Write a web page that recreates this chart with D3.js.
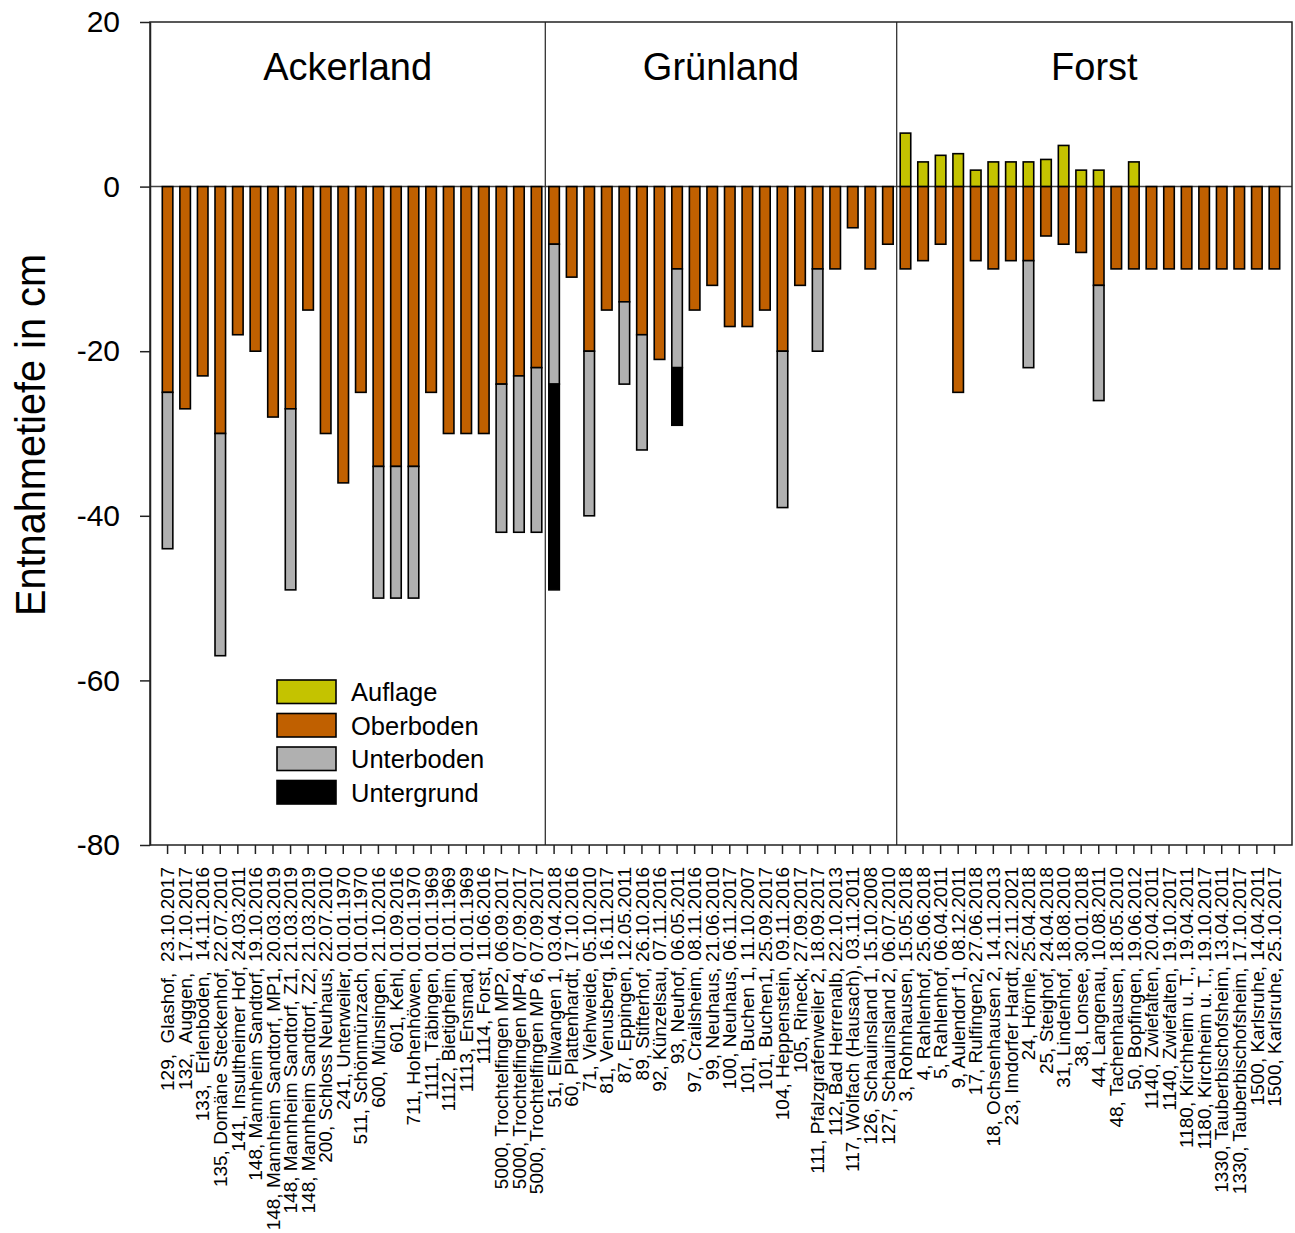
<!DOCTYPE html>
<html>
<head>
<meta charset="utf-8">
<script src="https://cdn.jsdelivr.net/npm/d3@7"></script>
<style>
  body { margin: 0; background: #fff; }
  svg { display: block; font-family: "Liberation Sans", Arial, sans-serif; }
</style>
</head>
<body>
<svg id="chart" width="1295" height="1233"></svg>
<script>
// Sampling sites: "number, site, date"
const categories = [
  "129,  Glashof,  23.10.2017",
  "132,  Auggen,  17.10.2017",
  "133,  Erlenboden,  14.11.2016",
  "135, Domäne Steckenhof, 22.07.2010",
  "141, Insultheimer Hof, 24.03.2011",
  "148, Mannheim Sandtorf, 19.10.2016",
  "148, Mannheim Sandtorf, MP1, 20.03.2019",
  "148, Mannheim Sandtorf, Z1, 21.03.2019",
  "148, Mannheim Sandtorf, Z2, 21.03.2019",
  "200, Schloss Neuhaus, 22.07.2010",
  "241, Unterweiler, 01.01.1970",
  "511, Schönmünzach, 01.01.1970",
  "600, Münsingen, 21.10.2016",
  "601, Kehl, 01.09.2016",
  "711, Hohenhöwen, 01.01.1970",
  "1111, Täbingen, 01.01.1969",
  "1112, Bietigheim, 01.01.1969",
  "1113, Ensmad, 01.01.1969",
  "1114, Forst, 11.06.2016",
  "5000, Trochtelfingen MP2, 06.09.2017",
  "5000, Trochtelfingen MP4, 07.09.2017",
  "5000, Trochtelfingen MP 6, 07.09.2017",
  "51, Ellwangen 1, 03.04.2018",
  "60, Plattenhardt, 17.10.2016",
  "71, Viehweide, 05.10.2010",
  "81, Venusberg, 16.11.2017",
  "87, Eppingen, 12.05.2011",
  "89, Stifterhof, 26.10.2016",
  "92, Künzelsau, 07.11.2016",
  "93, Neuhof, 06.05.2011",
  "97, Crailsheim, 08.11.2016",
  "99, Neuhaus, 21.06.2010",
  "100, Neuhaus, 06.11.2017",
  "101, Buchen 1, 11.10.2007",
  "101, Buchen1, 25.09.2017",
  "104, Heppenstein, 09.11.2016",
  "105, Rineck, 27.09.2017",
  "111, Pfalzgrafenweiler 2, 18.09.2017",
  "112, Bad Herrenalb, 22.10.2013",
  "117, Wolfach (Hausach), 03.11.2011",
  "126, Schauinsland 1, 15.10.2008",
  "127, Schauinsland 2, 06.07.2010",
  "3, Rohnhausen, 15.05.2018",
  "4, Rahlenhof, 25.06.2018",
  "5, Rahlenhof, 06.04.2011",
  "9, Aulendorf 1, 08.12.2011",
  "17, Rulfingen2, 27.06.2018",
  "18, Ochsenhausen 2, 14.11.2013",
  "23, Imdorfer Hardt, 22.11.2021",
  "24, Hörnle, 25.04.2018",
  "25, Steighof, 24.04.2018",
  "31, Lindenhof, 18.08.2010",
  "38, Lonsee, 30.01.2018",
  "44, Langenau, 10.08.2011",
  "48, Tachenhausen, 18.05.2010",
  "50, Bopfingen, 19.06.2012",
  "1140, Zwiefalten, 20.04.2011",
  "1140, Zwiefalten, 19.10.2017",
  "1180, Kirchheim u. T., 19.04.2011",
  "1180, Kirchheim u. T., 19.10.2017",
  "1330, Tauberbischofsheim, 13.04.2011",
  "1330, Tauberbischofsheim, 17.10.2017",
  "1500, Karlsruhe, 14.04.2011",
  "1500, Karlsruhe, 25.10.2017"
];

// Land use groups, in order, with number of sites each
const sectionNames = ["Ackerland", "Grünland", "Forst"];
const sectionSizes = [22, 20, 22];

// Organic layer thickness above the surface (cm)
const auflage = [
  0,0,0,0,0,0,0,0,0,0,0,0,0,0,0,0,0,0,0,0,0,0,
  0,0,0,0,0,0,0,0,0,0,0,0,0,0,0,0,0,0,0,0,
  6.5,3,3.8,4,2,3,3,3,3.3,5,2,2,0,3,0,0,0,0,0,0,0,0
];
// Lower boundary of each horizon (cm, negative = below surface); null = not sampled
const oberboden = [
  -25,-27,-23,-30,-18,-20,-28,-27,-15,-30,-36,-25,-34,-34,-34,-25,-30,-30,-30,-24,-23,-22,
  -7,-11,-20,-15,-14,-18,-21,-10,-15,-12,-17,-17,-15,-20,-12,-10,-10,-5,-10,-7,
  -10,-9,-7,-25,-9,-10,-9,-9,-6,-7,-8,-12,-10,-10,-10,-10,-10,-10,-10,-10,-10,-10
];
const unterboden = [
  -44,null,null,-57,null,null,null,-49,null,null,null,null,-50,-50,-50,null,null,null,null,-42,-42,-42,
  -24,null,-40,null,-24,-32,null,-22,null,null,null,null,null,-39,null,-20,null,null,null,null,
  null,null,null,null,null,null,null,-22,null,null,null,-26,null,null,null,null,null,null,null,null,null,null
];
const untergrund = [
  null,null,null,null,null,null,null,null,null,null,null,null,null,null,null,null,null,null,null,null,null,null,
  -49,null,null,null,null,null,null,-29,null,null,null,null,null,null,null,null,null,null,null,null,
  null,null,null,null,null,null,null,null,null,null,null,null,null,null,null,null,null,null,null,null,null,null
];

const layerNames = ["Auflage", "Oberboden", "Unterboden", "Untergrund"];
const layerColors = ["#c4c300", "#c06000", "#b0b0b0", "#000000"];
const yTicks = [20, 0, -20, -40, -60, -80];
const yTitle = "Entnahmetiefe in cm";

(function draw() {
  const svg = d3.select("#chart");
  const plotLeft = 150, plotRight = 1292, plotTop = 22, plotBottom = 845;

  const idx = d3.range(categories.length);
  const x = d3.scaleBand().domain(idx).range([plotLeft, plotRight]).paddingInner(0.4).paddingOuter(0.7);
  const y = d3.scaleLinear().domain([-80, 20]).range([plotBottom, plotTop]);

  // Stacked horizon segments per site
  const segments = [];
  idx.forEach(i => {
    if (auflage[i] > 0) segments.push({ i, layer: 0, y0: 0, y1: auflage[i] });
    segments.push({ i, layer: 1, y0: 0, y1: oberboden[i] });
    let prev = oberboden[i];
    if (unterboden[i] != null) { segments.push({ i, layer: 2, y0: prev, y1: unterboden[i] }); prev = unterboden[i]; }
    if (untergrund[i] != null) { segments.push({ i, layer: 3, y0: prev, y1: untergrund[i] }); }
  });

  // Zero line
  svg.append("line")
    .attr("x1", plotLeft).attr("x2", plotRight)
    .attr("y1", y(0)).attr("y2", y(0))
    .attr("stroke", "#444").attr("stroke-width", 1.5);

  // Bars
  svg.append("g").selectAll("rect").data(segments).join("rect")
    .attr("x", d => x(d.i))
    .attr("width", x.bandwidth())
    .attr("y", d => y(Math.max(d.y0, d.y1)))
    .attr("height", d => Math.abs(y(d.y0) - y(d.y1)))
    .attr("fill", d => layerColors[d.layer])
    .attr("stroke", "#000").attr("stroke-width", 1.6);

  // Group separators and titles
  let count = 0;
  const bounds = [plotLeft];
  sectionSizes.forEach((n, k) => {
    count += n;
    if (k < sectionSizes.length - 1) {
      const xs = (x(count - 1) + x.bandwidth() + x(count)) / 2;
      bounds.push(xs);
      svg.append("line")
        .attr("x1", xs).attr("x2", xs).attr("y1", plotTop).attr("y2", plotBottom)
        .attr("stroke", "#333").attr("stroke-width", 1.3);
    }
  });
  bounds.push(plotRight);
  sectionNames.forEach((name, k) => {
    svg.append("text")
      .attr("x", (bounds[k] + bounds[k + 1]) / 2)
      .attr("y", 80)
      .attr("text-anchor", "middle")
      .attr("font-size", 38)
      .text(name);
  });

  // Plot frame
  svg.append("rect")
    .attr("x", plotLeft).attr("y", plotTop)
    .attr("width", plotRight - plotLeft).attr("height", plotBottom - plotTop)
    .attr("fill", "none").attr("stroke", "#222").attr("stroke-width", 1.5);

  // Y axis (plain hyphen for negative numbers)
  const gy = svg.append("g").attr("transform", `translate(${plotLeft},0)`)
    .call(d3.axisLeft(y).tickValues(yTicks).tickSize(10).tickSizeOuter(0).tickPadding(20)
      .tickFormat(d => String(d)));
  gy.select(".domain").attr("stroke", "#222").attr("stroke-width", 1.5);
  gy.selectAll(".tick line").attr("stroke", "#222").attr("stroke-width", 1.5);
  gy.selectAll(".tick text").attr("font-size", 30).attr("font-family", null).attr("fill", "#000");

  svg.append("text")
    .attr("transform", `translate(45,435) rotate(-90)`)
    .attr("text-anchor", "middle")
    .attr("font-size", 43)
    .attr("textLength", 362)
    .attr("lengthAdjust", "spacingAndGlyphs")
    .text(yTitle);

  // X axis with rotated site labels (spacing inside labels kept as written)
  const gx = svg.append("g").attr("transform", `translate(0,${plotBottom})`)
    .call(d3.axisBottom(x).tickSize(9).tickSizeOuter(0).tickFormat(i => categories[i]));
  gx.select(".domain").remove();
  gx.selectAll(".tick line").attr("stroke", "#222").attr("stroke-width", 1.5);
  gx.selectAll(".tick text")
    .attr("font-size", 19).attr("font-family", null).attr("fill", "#000")
    .style("white-space", "pre")
    .attr("text-anchor", "end")
    .attr("transform", "rotate(-90)")
    .attr("x", -22).attr("y", 0).attr("dy", "0.35em");

  // Legend
  const legend = svg.append("g").attr("transform", "translate(277,680)");
  layerNames.forEach((name, k) => {
    const g = legend.append("g").attr("transform", `translate(0,${k * 33.5})`);
    g.append("rect").attr("width", 59).attr("height", 23.5)
      .attr("fill", layerColors[k]).attr("stroke", "#000").attr("stroke-width", 1.6);
    g.append("text").attr("x", 74).attr("y", 21).attr("font-size", 25.5).text(name);
  });
})();
</script>
</body>
</html>
